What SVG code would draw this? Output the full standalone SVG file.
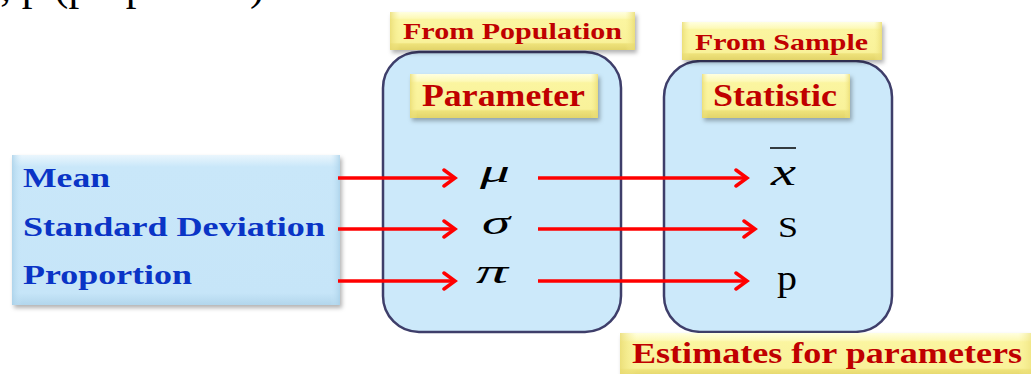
<svg xmlns="http://www.w3.org/2000/svg" width="1031" height="374" viewBox="0 0 1031 374">
<style>
  .lbl { font-family: "Liberation Serif", "Times New Roman", serif; font-weight: bold; fill: #C00000; }
  .blue { font-family: "Liberation Serif", "Times New Roman", serif; font-weight: bold; fill: #0A34C6; font-size: 27px; }
  .sym { font-family: "Liberation Serif", "Times New Roman", serif; font-style: italic; fill: #000; }
  .rom { font-family: "Liberation Serif", "Times New Roman", serif; fill: #000; }
  .panel { fill: #CCE9FA; stroke: #3E3E6A; stroke-width: 2.5; }
  .arrow { stroke: #FF0000; stroke-width: 3.5; fill: none; marker-end: url(#head); }
</style>
<defs>
  <marker id="head" markerWidth="16" markerHeight="20" refX="13" refY="10" orient="auto" markerUnits="userSpaceOnUse">
    <path d="M2,2 L13,10 L2,18" fill="none" stroke="#FF0000" stroke-width="3.5" stroke-linecap="round"/>
  </marker>
  <linearGradient id="yv" x1="0" y1="0" x2="0" y2="1">
    <stop offset="0" stop-color="#FFFFE0"/>
    <stop offset="0.16" stop-color="#FDF9B8"/>
    <stop offset="0.2" stop-color="#FBF5A0"/>
    <stop offset="0.8" stop-color="#F9F29A"/>
    <stop offset="0.84" stop-color="#EEE27A"/>
    <stop offset="1" stop-color="#E2D46A"/>
  </linearGradient>
  <linearGradient id="yh" x1="0" y1="0" x2="1" y2="0">
    <stop offset="0" stop-color="#E8DA70" stop-opacity="0.8"/>
    <stop offset="0.04" stop-color="#F5EC90" stop-opacity="0"/>
    <stop offset="0.96" stop-color="#F5EC90" stop-opacity="0"/>
    <stop offset="1" stop-color="#E8DA70" stop-opacity="0.8"/>
  </linearGradient>
  <linearGradient id="bv" x1="0" y1="0" x2="0" y2="1">
    <stop offset="0" stop-color="#EAF6FD"/>
    <stop offset="0.08" stop-color="#C9E7F9"/>
    <stop offset="0.92" stop-color="#C6E5F8"/>
    <stop offset="1" stop-color="#B2D6EC"/>
  </linearGradient>
  <linearGradient id="bh" x1="0" y1="0" x2="1" y2="0">
    <stop offset="0" stop-color="#A9D0E8" stop-opacity="0.8"/>
    <stop offset="0.03" stop-color="#C9E7F9" stop-opacity="0"/>
    <stop offset="0.97" stop-color="#C9E7F9" stop-opacity="0"/>
    <stop offset="1" stop-color="#A9D0E8" stop-opacity="0.8"/>
  </linearGradient>
  <filter id="sh" x="-10%" y="-20%" width="120%" height="150%">
    <feDropShadow dx="2" dy="3" stdDeviation="2" flood-color="#000" flood-opacity="0.3"/>
  </filter>
</defs>

<text class="rom" x="-14" y="0" font-size="43">), p (proportion)</text>

<g id="inputs">
  <rect x="12" y="155" width="328" height="150" fill="url(#bv)" filter="url(#sh)"/>
  <rect x="12" y="155" width="328" height="150" fill="url(#bh)"/>
  <text class="blue" x="23" y="187" textLength="87" lengthAdjust="spacingAndGlyphs">Mean</text>
  <text class="blue" x="23" y="236" textLength="302" lengthAdjust="spacingAndGlyphs">Standard Deviation</text>
  <text class="blue" x="23" y="284" textLength="169" lengthAdjust="spacingAndGlyphs">Proportion</text>
</g>

<g id="parameter">
  <rect class="panel" x="383" y="52" width="238" height="280" rx="36"/>
  <rect x="410" y="74" width="188" height="44" fill="url(#yv)" filter="url(#sh)"/>
  <rect x="410" y="74" width="188" height="44" fill="url(#yh)"/>
  <text class="lbl" x="422" y="106" font-size="32" textLength="163" lengthAdjust="spacingAndGlyphs">Parameter</text>
  <text class="sym" x="480" y="182" font-size="32" textLength="30" lengthAdjust="spacingAndGlyphs">μ</text>
  <text class="sym" x="482" y="234" font-size="34" textLength="28" lengthAdjust="spacingAndGlyphs">σ</text>
  <text class="sym" x="476" y="283" font-size="34" textLength="32" lengthAdjust="spacingAndGlyphs">π</text>
</g>

<g id="from-population">
  <rect x="390" y="12" width="245" height="38" fill="url(#yv)" filter="url(#sh)"/>
  <rect x="390" y="12" width="245" height="38" fill="url(#yh)"/>
  <text class="lbl" x="403" y="39" font-size="24" textLength="219" lengthAdjust="spacingAndGlyphs">From Population</text>
</g>

<g id="statistic">
  <rect class="panel" x="664" y="61" width="228" height="271" rx="36"/>
  <rect x="702" y="74" width="148" height="44" fill="url(#yv)" filter="url(#sh)"/>
  <rect x="702" y="74" width="148" height="44" fill="url(#yh)"/>
  <text class="lbl" x="713" y="106" font-size="32" textLength="124" lengthAdjust="spacingAndGlyphs">Statistic</text>
  <line x1="770" y1="148" x2="796" y2="148" stroke="#000" stroke-width="1.5"/>
  <text class="sym" x="771" y="185" font-size="38" textLength="25" lengthAdjust="spacingAndGlyphs">x</text>
  <text class="rom" x="778" y="237" font-size="29" textLength="20" lengthAdjust="spacingAndGlyphs">S</text>
  <text class="rom" x="777" y="290" font-size="36" textLength="20" lengthAdjust="spacingAndGlyphs">p</text>
</g>

<g id="from-sample">
  <rect x="682" y="22" width="200" height="38" fill="url(#yv)" filter="url(#sh)"/>
  <rect x="682" y="22" width="200" height="38" fill="url(#yh)"/>
  <text class="lbl" x="695" y="50" font-size="23" textLength="173" lengthAdjust="spacingAndGlyphs">From Sample</text>
</g>

<g id="estimates">
  <rect x="620" y="333" width="415" height="44" fill="url(#yv)" filter="url(#sh)"/>
  <rect x="620" y="333" width="415" height="44" fill="url(#yh)"/>
  <text class="lbl" x="632" y="363" font-size="29" textLength="390" lengthAdjust="spacingAndGlyphs">Estimates for parameters</text>
</g>

<g id="connectors">
  <line class="arrow" x1="338" y1="178" x2="455" y2="178"/>
  <line class="arrow" x1="338" y1="229" x2="455" y2="229"/>
  <line class="arrow" x1="338" y1="281" x2="455" y2="281"/>
  <line class="arrow" x1="538" y1="178" x2="747" y2="178"/>
  <line class="arrow" x1="538" y1="229" x2="755" y2="229"/>
  <line class="arrow" x1="538" y1="281" x2="747" y2="281"/>
</g>
</svg>
